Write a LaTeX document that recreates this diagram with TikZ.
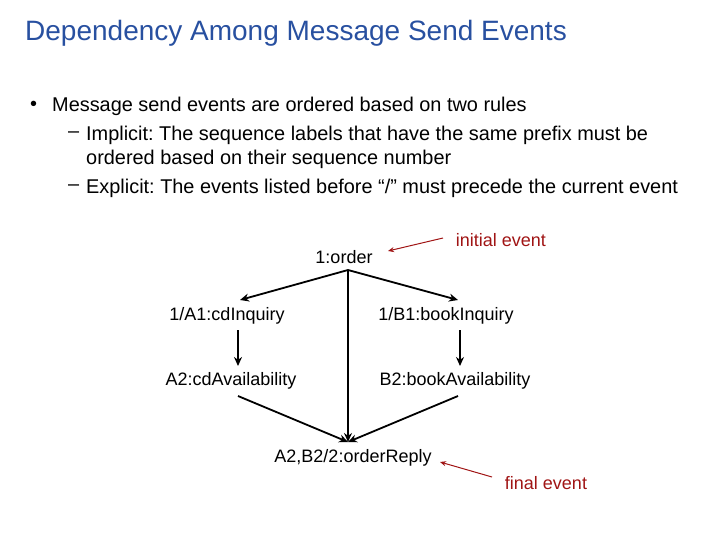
\documentclass[tikz,border=0pt]{standalone}
\usepackage{fontspec}
\setmainfont{Liberation Sans}
\usetikzlibrary{arrows.meta}
\begin{document}
\frenchspacing
\begin{tikzpicture}[x=1pt,y=-1pt,
  lab/.style={inner sep=1pt,font=\fontsize{18}{20}\selectfont},
  txt/.style={anchor=west,inner sep=0pt,font=\fontsize{19.9}{22}\selectfont},
  arr/.style={-{Stealth[length=9pt,width=8pt]},line width=1.8pt},
  red/.style={-{Stealth[length=6pt,width=5pt]},line width=1pt,draw=darkred}]
\definecolor{titleblue}{RGB}{40,80,160}
\definecolor{darkred}{RGB}{160,20,20}
\useasboundingbox (0,0) rectangle (720,540);
\node[anchor=west,inner sep=0pt,text=titleblue,font=\fontsize{28}{30}\selectfont] (title) at (25,33) {Dependency Among Message Send Events};
\node[txt] (b0) at (30,106) {•};
\node[txt] (b1) at (52,106) {Message send events are ordered based on two rules};
\node[txt] (d1) at (68,135) {–};
\node[txt] (s1) at (86,135) {Implicit: The sequence labels that have the same prefix must be};
\node[txt] (s1b) at (86,159) {ordered based on their sequence number};
\node[txt] (d2) at (68,188) {–};
\node[txt] (s2) at (86,188) {Explicit: The events listed before “/” must precede the current event};
\node[lab] (o) at (344,257) {1:order};
\node[lab] (a1) at (227,316) {1/A1:cdInquiry};
\node[lab] (b1n) at (446,316) {1/B1:bookInquiry};
\node[lab] (a2) at (231,381) {A2:cdAvailability};
\node[lab] (b2) at (455,381) {B2:bookAvailability};
\node[lab] (r) at (353,458) {A2,B2/2:orderReply};
\node[lab,text=darkred] (ie) at (501,240) {initial event};
\node[lab,text=darkred] (fe) at (546,483) {final event};
\coordinate (os) at (348,270);
\coordinate (rt) at (348,442);
\coordinate (ia) at (443,238);
\coordinate (ib) at (388,251);
\coordinate (fa) at (492,477);
\coordinate (fb) at (440,462);
\draw[arr] (os) -- (240,300);
\draw[arr] (os) -- (458,300);
\draw[arr] (os) -- (rt);
\draw[arr] (238,330) -- (238,366);
\draw[arr] (460,330) -- (460,366);
\draw[arr] (238,396) -- (rt);
\draw[arr] (458,396) -- (rt);
\draw[red] (ia) -- (ib);
\draw[red] (fa) -- (fb);
\end{tikzpicture}
\end{document}
